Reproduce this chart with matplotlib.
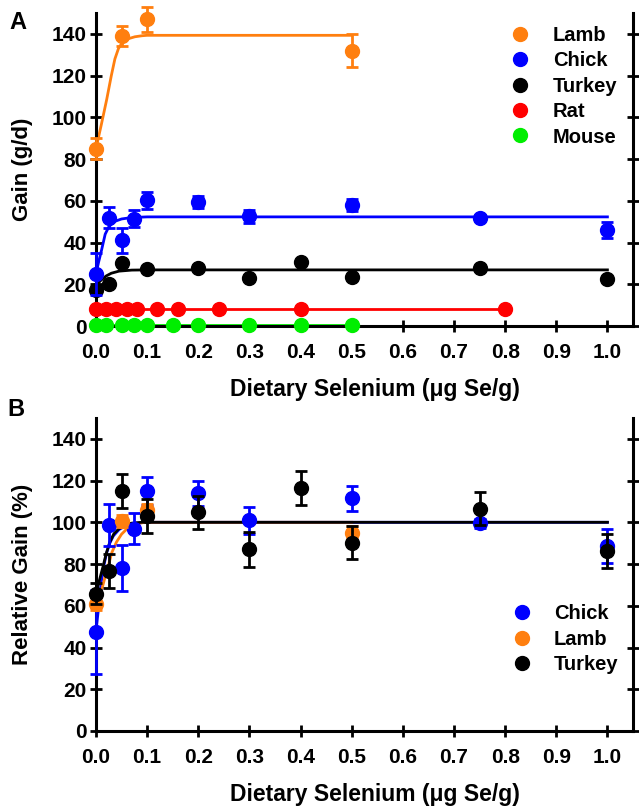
import matplotlib
matplotlib.use("Agg")
import matplotlib.pyplot as plt

plt.rcParams['font.family'] = ['Liberation Sans', 'DejaVu Sans']
plt.rcParams['font.weight'] = 'bold'

ORANGE, BLUE, BLACK, RED, GREEN = '#FF7F0F', '#0000FF', '#000000', '#FF0000', '#00EE00'

# ---- panel A : gain (g/d) ----
lamb_x = [0.0, 0.05, 0.1, 0.5]
lamb_y = [85, 139, 147, 132]
lamb_err = [5, 5, 6, 8]

chick_x = [0.0, 0.025, 0.05, 0.075, 0.1, 0.2, 0.3, 0.5, 0.75, 1.0]
chick_y = [25, 52, 41, 51.4, 60.2, 59.5, 52.6, 58, 52, 46]
chick_err = [10, 5, 6, 4, 4, 3, 3, 3, 1, 4]

turkey_x = [0.0, 0.025, 0.05, 0.1, 0.2, 0.3, 0.4, 0.5, 0.75, 1.0]
turkey_y = [17.3, 20.2, 30.4, 27.2, 27.7, 22.9, 30.6, 23.7, 28, 22.6]

rat_x = [0.0, 0.02, 0.04, 0.06, 0.08, 0.12, 0.16, 0.24, 0.4, 0.8]
rat_y = [8, 8, 8, 8, 8, 8, 8, 8, 8, 8]

mouse_x = [0.0, 0.02, 0.05, 0.075, 0.1, 0.15, 0.2, 0.3, 0.4, 0.5]
mouse_y = [0.5, 0.5, 0.5, 0.5, 0.5, 0.5, 0.5, 0.5, 0.5, 0.5]

# fitted curves
lamb_fit_x = [0.0, 0.01, 0.021, 0.03, 0.037, 0.044, 0.05, 0.055, 0.065, 0.076, 0.09, 0.1, 0.5]
lamb_fit_y = [85, 96, 108.6, 120, 128, 133, 135.3, 136.6, 137.8, 138.6, 139.1, 139.3, 139.3]
chick_fit_x = [0.0, 0.005, 0.011, 0.018, 0.025, 0.035, 0.05, 0.07, 0.1, 1.0]
chick_fit_y = [25, 30.5, 36.5, 44, 47.5, 50, 51.3, 52, 52.3, 52.3]
turkey_fit_x = [0.0, 0.01, 0.02, 0.03, 0.045, 0.07, 0.1, 1.0]
turkey_fit_y = [19.5, 22, 24, 25.3, 26.3, 26.8, 26.9, 26.9]
rat_fit_x, rat_fit_y = [0.0, 0.8], [8, 8]
mouse_fit_x, mouse_fit_y = [0.0, 0.5], [0.5, 0.5]

# ---- panel B : relative gain (%) ----
rchick_y = [47.5, 98.6, 78, 97, 115, 114, 101, 111.4, 99.5, 88.6]
rchick_err = [20, 10, 11, 7.5, 6.7, 6, 6.5, 6, 2, 8]
rlamb_y = [61, 100.7, 106, 95]
rlamb_err = [3, 3, 3, 3]
rturkey_y = [65.7, 76.6, 115, 103, 104.8, 87, 116.4, 90.3, 106.6, 86.2]
rturkey_err = [5, 8, 8, 8, 8, 8.5, 8, 8, 8, 8]

rblack_fit_x = [0.0, 0.007, 0.014, 0.02, 0.027, 0.035, 0.044, 0.055, 0.07, 0.09, 0.1, 1.0]
rblack_fit_y = [65.5, 72.5, 79, 85, 90.5, 94.5, 96.7, 98.5, 99.6, 100, 100, 100]
rlamb_fit_x = [0.0, 0.004, 0.011, 0.018, 0.025, 0.031, 0.04, 0.05, 0.062, 0.076, 0.09, 0.1, 0.5]
rlamb_fit_y = [60, 61.4, 67.5, 74, 80, 85.5, 90.5, 94.3, 97.2, 99, 99.8, 100, 100]
rchick_fit_x = [0.0, 0.004, 0.011, 0.016, 0.021, 0.027, 0.034, 0.045, 0.057, 0.075, 0.1, 1.0]
rchick_fit_y = [47.8, 56.7, 72.6, 80, 85.5, 90, 93.5, 96.5, 98.3, 99.5, 100, 100]

xticks = [0.0, 0.1, 0.2, 0.3, 0.4, 0.5, 0.6, 0.7, 0.8, 0.9, 1.0]
yticks = [0, 20, 40, 60, 80, 100, 120, 140]

MS = 10
TICK_FS = 15
LEG_FS = 14.5


def style_axes(ax):
    ax.set_xlim(0, 1.05)
    ax.set_ylim(0, 150)
    ax.set_xticks(xticks)
    ax.set_xticklabels([f"{t:.1f}" for t in xticks])
    ax.set_yticks(yticks)
    for s in ['left', 'right', 'bottom']:
        ax.spines[s].set_linewidth(2.2)
    ax.spines['top'].set_visible(False)
    ax.tick_params(axis='both', direction='inout', length=9, width=2,
                   labelsize=TICK_FS, right=True, labelright=False)
    ax.tick_params(axis='x', pad=8)
    ax.tick_params(axis='y', pad=2)
    for lab in ax.get_xticklabels() + ax.get_yticklabels():
        lab.set_fontweight('bold')
    ax.set_xlabel('Dietary Selenium (\u03bcg Se/g)', fontsize=16.5, fontweight='bold')
    ax.xaxis.set_label_coords(0.52, -0.165)


def series(ax, x, y, err, color, label, z):
    if err is not None:
        ax.errorbar(x, y, yerr=err, fmt='none', ecolor=color, elinewidth=2,
                    capsize=4.5, capthick=2, zorder=z, clip_on=False)
    ax.plot(x, y, 'o', color=color, ms=MS, mec=color, label=label,
            zorder=z + 0.5, clip_on=False)


def add_legend(ax, anchor):
    ax.legend(loc='upper left', bbox_to_anchor=anchor, frameon=False,
              prop={'size': LEG_FS, 'weight': 'bold'}, handletextpad=1.0,
              labelspacing=0.32, handlelength=1.2, borderaxespad=0.0)


fig = plt.figure(figsize=(6.39, 8.07), dpi=100)
axA = fig.add_axes([0.1502, 0.5960, 0.8404, 0.3879])
axB = fig.add_axes([0.1502, 0.0942, 0.8404, 0.3879])

# panel A
axA.plot(mouse_fit_x, mouse_fit_y, color=GREEN, lw=2, zorder=2, clip_on=False)
axA.plot(rat_fit_x, rat_fit_y, color=RED, lw=2, zorder=2)
axA.plot(turkey_fit_x, turkey_fit_y, color=BLACK, lw=2, zorder=2)
axA.plot(chick_fit_x, chick_fit_y, color=BLUE, lw=2, zorder=2)
axA.plot(lamb_fit_x, lamb_fit_y, color=ORANGE, lw=2, zorder=2)
series(axA, lamb_x, lamb_y, lamb_err, ORANGE, 'Lamb', 7)
series(axA, chick_x, chick_y, chick_err, BLUE, 'Chick', 6)
series(axA, turkey_x, turkey_y, None, BLACK, 'Turkey', 5)
series(axA, rat_x, rat_y, None, RED, 'Rat', 4)
series(axA, mouse_x, mouse_y, None, GREEN, 'Mouse', 3)
style_axes(axA)
axA.set_ylabel('Gain (g/d)', fontsize=16, fontweight='bold')
axA.yaxis.set_label_coords(-0.118, 0.5)
add_legend(axA, (0.753, 0.985))
fig.text(0.015, 0.972, 'A', fontsize=17, fontweight='bold', va='center')

# panel B
axB.plot(rchick_fit_x, rchick_fit_y, color=BLUE, lw=2, zorder=2)
axB.plot(rlamb_fit_x, rlamb_fit_y, color=ORANGE, lw=2, zorder=2.1)
axB.plot(rblack_fit_x, rblack_fit_y, color=BLACK, lw=2, zorder=2.2)
series(axB, chick_x, rchick_y, rchick_err, BLUE, 'Chick', 3)
series(axB, lamb_x, rlamb_y, rlamb_err, ORANGE, 'Lamb', 4)
series(axB, turkey_x, rturkey_y, rturkey_err, BLACK, 'Turkey', 5)
style_axes(axB)
axB.set_ylabel('Relative Gain (%)', fontsize=16, fontweight='bold')
axB.yaxis.set_label_coords(-0.118, 0.5)
add_legend(axB, (0.755, 0.43))
fig.text(0.012, 0.492, 'B', fontsize=17, fontweight='bold', va='center')

fig.savefig('out.png', dpi=100)
